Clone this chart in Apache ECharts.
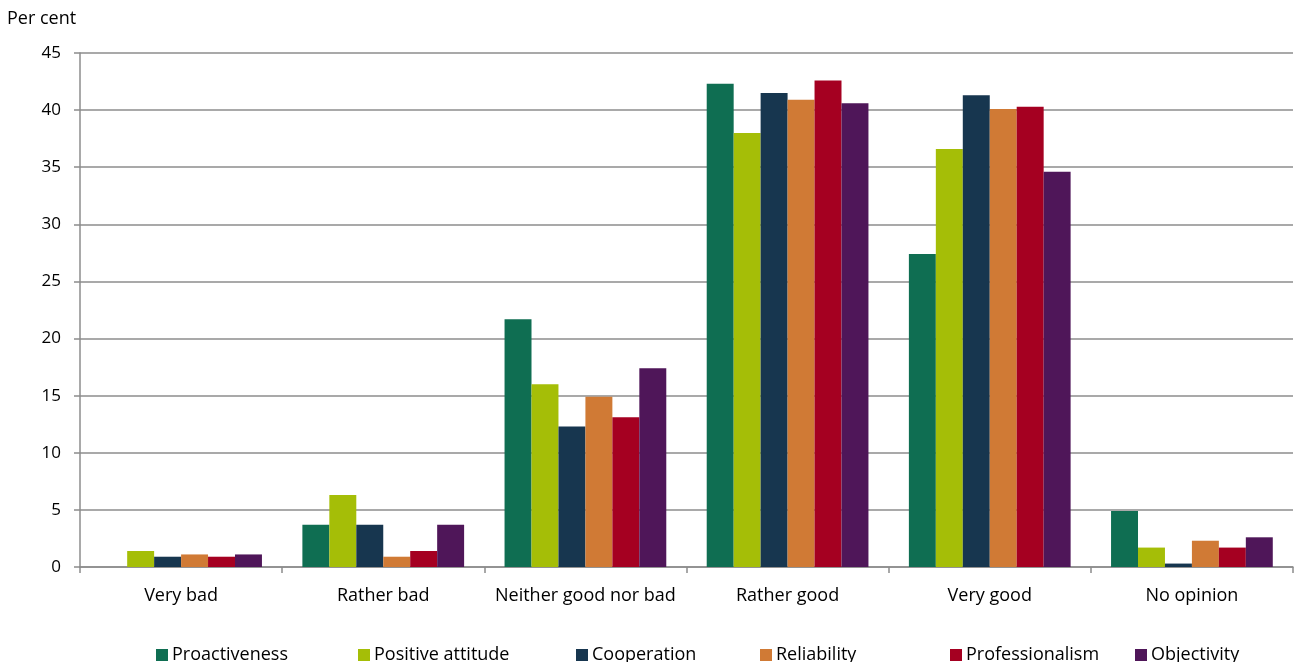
<!DOCTYPE html>
<html>
<head>
<meta charset="utf-8">
<script src="https://cdn.jsdelivr.net/npm/echarts@6/dist/echarts.min.js"></script>
<style>
  html, body { margin: 0; padding: 0; background: #fff; }
  #chart { width: 1295px; height: 662px; }
</style>
</head>
<body>
<div id="chart"></div>
<script>
// Survey answer categories
const categories = ['Very bad', 'Rather bad', 'Neither good nor bad', 'Rather good', 'Very good', 'No opinion'];

// Share of respondents per answer (per cent)
const proactiveness    = [0.0, 3.7, 21.7, 42.3, 27.4, 4.9];
const positiveAttitude = [1.4, 6.3, 16.0, 38.0, 36.6, 1.7];
const cooperation      = [0.9, 3.7, 12.3, 41.5, 41.3, 0.3];
const reliability      = [1.1, 0.9, 14.9, 40.9, 40.1, 2.3];
const professionalism  = [0.9, 1.4, 13.1, 42.6, 40.3, 1.7];
const objectivity      = [1.1, 3.7, 17.4, 40.6, 34.6, 2.6];

const seriesNames = ['Proactiveness', 'Positive attitude', 'Cooperation', 'Reliability', 'Professionalism', 'Objectivity'];
const seriesData = [proactiveness, positiveAttitude, cooperation, reliability, professionalism, objectivity];
const colors = ['#0F6E52', '#A5BE07', '#17364F', '#D07A35', '#A50021', '#4F1659'];

const FONT = '"Open Sans", "Liberation Sans", sans-serif';

const chart = echarts.init(document.getElementById('chart'), null, { renderer: 'canvas' });

// One legend block per series so each entry sits in its own slot
const legendLeft = [156, 358, 576, 760, 950, 1135];
const legends = seriesNames.map((name, i) => ({
  data: [name],
  left: legendLeft[i],
  top: 646,
  padding: 0,
  itemWidth: 12,
  itemHeight: 12,
  itemGap: 0,
  icon: 'rect',
  textStyle: { fontFamily: FONT, fontSize: 18, color: '#000', padding: [0, 0, 0, -1] },
  selectedMode: false
}));

chart.setOption({
  animation: false,
  color: colors,
  textStyle: { fontFamily: FONT },
  graphic: [{
    type: 'text',
    left: 7,
    top: 10,
    style: { text: 'Per cent', font: '18px ' + FONT, fill: '#000' }
  }],
  legend: legends,
  grid: { left: 80, right: 2, top: 53, bottom: 95, containLabel: false },
  xAxis: {
    type: 'category',
    data: categories,
    axisLine: { lineStyle: { color: '#8c8c8c', width: 1.5 } },
    axisTick: { show: true, interval: 0, alignWithLabel: false, length: 6, lineStyle: { color: '#8c8c8c', width: 1.5 } },
    axisLabel: { interval: 0, fontFamily: FONT, fontSize: 18, color: '#000', margin: 20 }
  },
  yAxis: {
    type: 'value',
    min: 0,
    max: 45,
    interval: 5,
    axisLine: { show: true, lineStyle: { color: '#8c8c8c', width: 1.5 } },
    axisTick: { show: true, length: 6, lineStyle: { color: '#8c8c8c', width: 1.5 } },
    axisLabel: { fontFamily: FONT, fontSize: 17, color: '#000', margin: 19 },
    splitLine: { show: true, lineStyle: { color: '#8c8c8c', width: 1.5 } }
  },
  series: seriesNames.map((name, i) => ({
    name: name,
    type: 'bar',
    data: seriesData[i],
    barGap: '0%',
    barCategoryGap: '20%',
    itemStyle: { color: colors[i] }
  }))
});
</script>
</body>
</html>
